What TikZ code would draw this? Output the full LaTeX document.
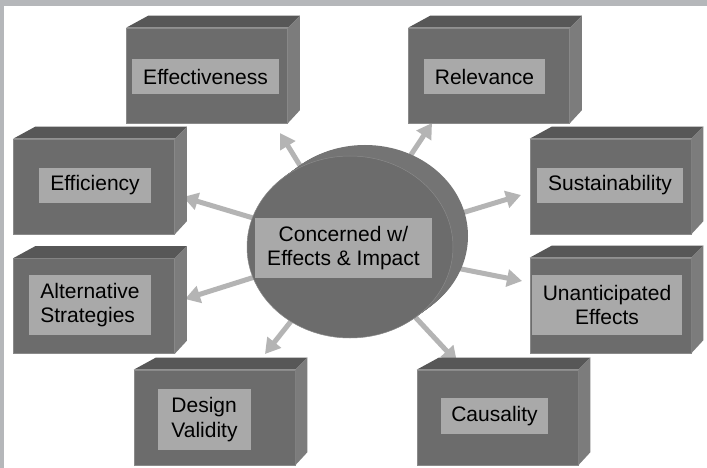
\documentclass[tikz,border=0pt]{standalone}
\usepackage{fontspec}
\setmainfont{Liberation Sans}
\usetikzlibrary{arrows.meta,shapes.geometric}
\pgfdeclarelayer{bg}
\pgfsetlayers{bg,main}
\definecolor{framegray}{HTML}{B5B7BA}
\definecolor{facefront}{HTML}{6C6C6C}
\definecolor{facetop}{HTML}{575757}
\definecolor{faceside}{HTML}{7C7C7C}
\definecolor{cylside}{HTML}{747474}
\definecolor{labfill}{HTML}{A9A9A9}
\definecolor{arrowgray}{HTML}{B4B4B4}
\definecolor{edgegray}{HTML}{8A8A8A}
\newcommand\drawcube[1]{%
  \fill[facetop] (#1.north west) -- ++(22,-12) -- ([shift={(12,-12)}]#1.north east) -- (#1.north east) -- cycle;
  \fill[faceside] (#1.north east) -- ([shift={(12,-12)}]#1.north east) -- ([shift={(12,-13)}]#1.south east) -- (#1.south east) -- cycle;
}
\begin{document}
\begin{tikzpicture}[x=1pt,y=-1pt,
  front/.style={draw=edgegray, line width=0.6pt, fill=facefront, minimum width=161pt, minimum height=95pt, inner sep=0pt},
  lab/.style={fill=labfill, inner sep=0pt, font=\fontsize{21}{24.5}\selectfont, text=black},
  spoke/.style={draw=arrowgray, line width=5pt, -{Triangle[length=15pt,width=17pt]}}
]
\useasboundingbox (0,0) rectangle (707,468);
\begin{pgfonlayer}{bg}
  \fill[white] (0,0) rectangle (707,468);
\end{pgfonlayer}
\fill[framegray] (0,0) rectangle (707,6);
\fill[framegray] (0,0) rectangle (4,468);

% boxes
\node[front] (eff) at (207,75.5) {};
\node[front] (rel) at (489,75.5) {};
\node[front] (effi) at (94,186.5) {};
\node[front] (sus) at (610.5,186.5) {};
\node[front] (alt) at (94,306) {};
\node[front] (una) at (610.5,305.5) {};
\node[front] (des) at (214.5,417.5) {};
\node[front] (cau) at (497.5,417.5) {};
\foreach \b in {eff,rel,effi,sus,alt,una,des,cau} {\drawcube{\b}}

% labels
\node[lab, minimum width=147pt, minimum height=35pt] (effl) at (205.5,76.5) {Effectiveness};
\node[lab, minimum width=121pt, minimum height=35pt] (rell) at (484.5,76.5) {Relevance};
\node[lab, minimum width=112pt, minimum height=35pt] (effil) at (95,185.5) {Efficiency};
\node[lab, minimum width=146pt, minimum height=35pt] (susl) at (610,185.5) {Sustainability};
\node[lab, minimum width=122pt, minimum height=60pt, align=left] (altl) at (90,305) {Alternative\\Strategies};
\node[lab, minimum width=150pt, minimum height=60pt, align=center] (unal) at (607,305) {Unanticipated\\Effects};
\node[lab, minimum width=93pt, minimum height=61pt, align=left] (desl) at (204.5,419.5) {Design\\Validity};
\node[lab, minimum width=107pt, minimum height=36pt] (caul) at (494.5,416) {Causality};

% cylinder
\foreach \i in {15,14,...,1} {
  \fill[cylside] ({350+\i},{247-\i*11/15}) ellipse [x radius=103, y radius=91];
}
\node[ellipse, draw=edgegray, line width=0.5pt, fill=facefront, minimum width=206pt, minimum height=182pt, inner sep=0pt] (hub) at (350,247) {};
\node[lab, minimum width=177pt, minimum height=60pt, align=center] (core) at (343.5,248) {Concerned w/\\Effects \& Impact};

% arrow tips
\coordinate (t1) at (280,133);
\coordinate (t2) at (432,123);
\coordinate (t3) at (183,197);
\coordinate (t4) at (521,195);
\coordinate (t5) at (185,299);
\coordinate (t6) at (522,281);
\coordinate (t7) at (265,354);
\coordinate (t8) at (457,362);
\begin{pgfonlayer}{bg}
  \foreach \t in {t1,t2,t3,t4,t5,t6,t7,t8} {\draw[spoke] (hub.center) -- (\t);}
\end{pgfonlayer}
\end{tikzpicture}
\end{document}
